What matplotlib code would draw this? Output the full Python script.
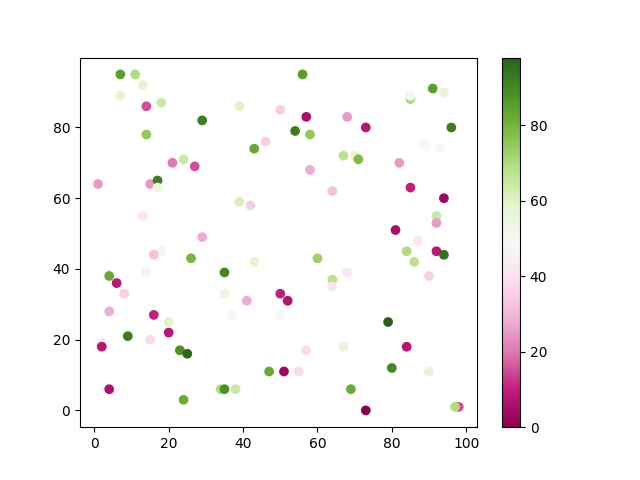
import numpy as np
import matplotlib
matplotlib.use("Agg")
import matplotlib.pyplot as plt

# Coordenadas de los puntos
x = [7, 11, 13, 7, 14, 18, 39, 50, 29, 14,
     46, 43, 21, 24, 27, 1, 15, 17, 17, 39,
     42, 13, 29, 18, 56, 91, 94, 85, 85, 57,
     68, 73, 96, 54, 58, 89, 93, 67, 70, 71,
     82, 58, 64, 85, 94, 92, 92, 81, 87, 84,
     92, 16, 26, 43, 4, 14, 35, 6, 8, 35,
     41, 50, 4, 16, 37, 50, 20, 20, 9, 15,
     2, 2, 23, 25, 47, 4, 34, 35, 38, 24,
     60, 94, 86, 68, 90, 64, 64, 52, 79, 67,
     57, 84, 51, 55, 80, 90, 69, 73, 98, 97]

y = [95, 95, 92, 89, 86, 87, 86, 85, 82, 78,
     76, 74, 70, 71, 69, 64, 64, 65, 63, 59,
     58, 55, 49, 45, 95, 91, 90, 88, 89, 83,
     83, 80, 80, 79, 78, 75, 74, 72, 72, 71,
     70, 68, 62, 63, 60, 55, 53, 51, 48, 45,
     45, 44, 43, 42, 38, 39, 39, 36, 33, 33,
     31, 33, 28, 27, 27, 27, 25, 22, 21, 20,
     19, 18, 17, 16, 11, 6, 6, 6, 6, 3,
     43, 44, 42, 39, 38, 37, 35, 31, 25, 18,
     17, 18, 11, 11, 12, 11, 6, 0, 1, 1]

# Valores de color
c = [85, 70, 58, 58, 15, 65, 60, 35, 92, 75,
     35, 83, 20, 65, 15, 25, 25, 92, 55, 62,
     35, 40, 28, 47, 85, 85, 58, 70, 50, 5,
     25, 8, 92, 92, 75, 50, 50, 68, 58, 78,
     25, 28, 32, 10, 3, 65, 25, 5, 42, 70,
     8, 32, 80, 58, 83, 50, 90, 8, 35, 55,
     28, 10, 28, 10, 50, 50, 60, 8, 93, 38,
     40, 8, 88, 97, 83, 6, 70, 88, 65, 82,
     73, 95, 68, 42, 35, 68, 42, 7, 98, 57,
     38, 8, 3, 38, 90, 58, 82, 0, 15, 70]

fig, ax = plt.subplots(figsize=(6.4, 4.8), dpi=100)
sc = ax.scatter(x, y, c=c, cmap="PiYG")
fig.colorbar(sc, ax=ax)

plt.savefig("out.png")
